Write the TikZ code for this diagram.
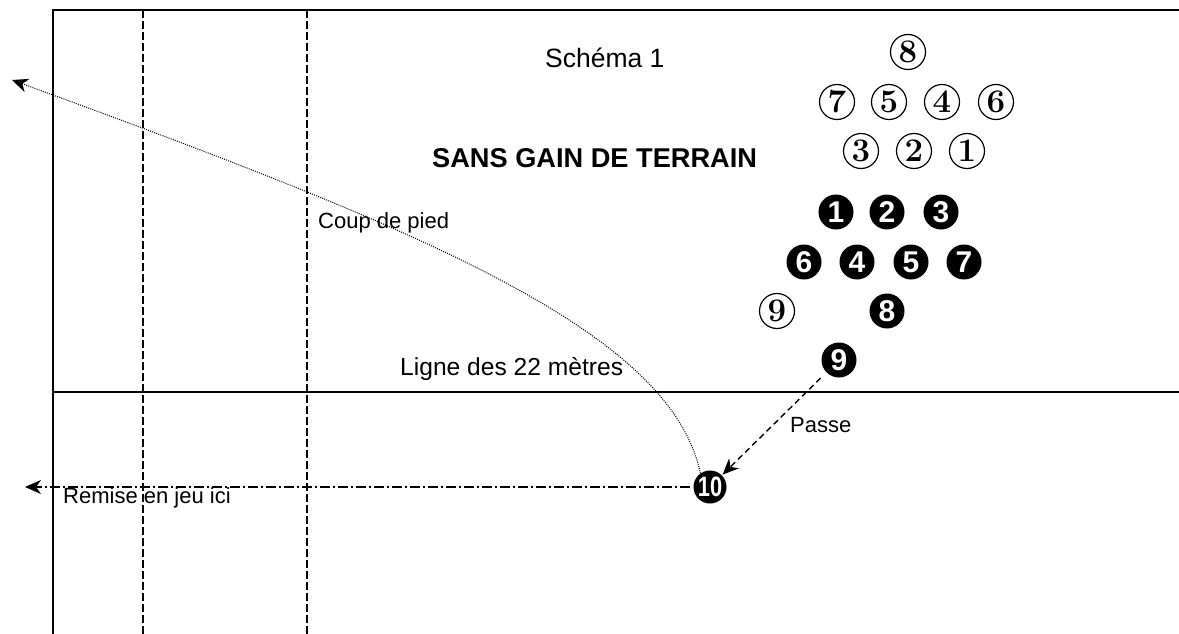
\documentclass[tikz,border=0pt]{standalone}
\usepackage{fontspec}
\setsansfont{Liberation Sans}
\usetikzlibrary{arrows.meta}
\begin{document}
\begin{tikzpicture}[x=1pt,y=-1pt,
  field/.style={line width=2.2pt},
  guide/.style={line width=1.6pt, dash pattern=on 8pt off 3pt},
  lbl/.style={font=\sffamily\fontsize{22}{22}\selectfont, anchor=base west, inner sep=0pt},
  attk/.style={circle, draw, line width=1.2pt, minimum size=35pt, inner sep=0pt,
    font=\rmfamily\bfseries\fontsize{33}{33}\selectfont},
  defn/.style={circle, fill=black, text=white, minimum size=35pt, inner sep=0pt,
    font=\sffamily\bfseries\fontsize{30}{30}\selectfont},
  tip/.style={-{Stealth[length=16pt,width=14pt,inset=5pt]}}
]
\useasboundingbox (0,0) rectangle (1179,634);

% field lines
\draw[field] (53,634) -- (53,10) -- (1179,10);
\draw[field] (53,392) -- (1179,392);
\draw[guide] (143,10) -- (143,634);
\draw[guide] (307,10) -- (307,634);

% labels
\node[lbl, font=\sffamily\fontsize{26.5}{26.5}\selectfont] (title) at (545,68) {Schéma 1};
\node[lbl, font=\sffamily\bfseries\fontsize{27.2}{27.2}\selectfont] (head) at (432,167) {SANS GAIN DE TERRAIN};
\node[lbl] (kick) at (318,228) {Coup de pied};
\node[lbl, font=\sffamily\fontsize{24.6}{24.6}\selectfont] (line22) at (400,375) {Ligne des 22 mètres};
\node[lbl] (pass) at (790,432) {Passe};
\node[lbl] (throw) at (63,503) {Remise en jeu ici};

% receiving side (open circles)
\node[attk] (a8) at (908,52) {8};
\node[attk] (a7) at (837,102) {7};
\node[attk] (a5) at (889,102) {5};
\node[attk] (a4) at (942,102) {4};
\node[attk] (a6) at (996,102) {6};
\node[attk] (a3) at (861,151) {3};
\node[attk] (a2) at (914,151) {2};
\node[attk] (a1) at (967,151) {1};
\node[attk] (a9) at (777,311) {9};

% throwing side (filled circles)
\node[defn] (d1) at (836,212) {1};
\node[defn] (d2) at (887,212) {2};
\node[defn] (d3) at (941,212) {3};
\node[defn] (d6) at (804,262) {6};
\node[defn] (d4) at (857,262) {4};
\node[defn] (d5) at (911,262) {5};
\node[defn] (d7) at (964,262) {7};
\node[defn] (d8) at (887,311) {8};
\node[defn] (d9) at (839,360) {9};
\node[defn, minimum size=33pt, font=\sffamily\bfseries\fontsize{28}{28}\selectfont] (d10) at (710,487) {\scalebox{0.78}[1]{10}};

% free ends
\coordinate (kickend) at (12,80);
\coordinate (throwend) at (25,487);

% moves
\draw[tip, line width=1pt, dash pattern=on 1pt off 1.2pt]
  (d10.125) .. controls (670,330) and (420,229) .. (kickend);
\draw[tip, line width=1.4pt, dash pattern=on 6pt off 4pt, shorten <=8pt, shorten >=1pt] (d9) -- (d10);
\draw[tip, line width=1.3pt, dash pattern=on 10pt off 3pt on 2pt off 3pt, shorten <=3pt] (d10.west) -- (throwend);
\end{tikzpicture}
\end{document}
